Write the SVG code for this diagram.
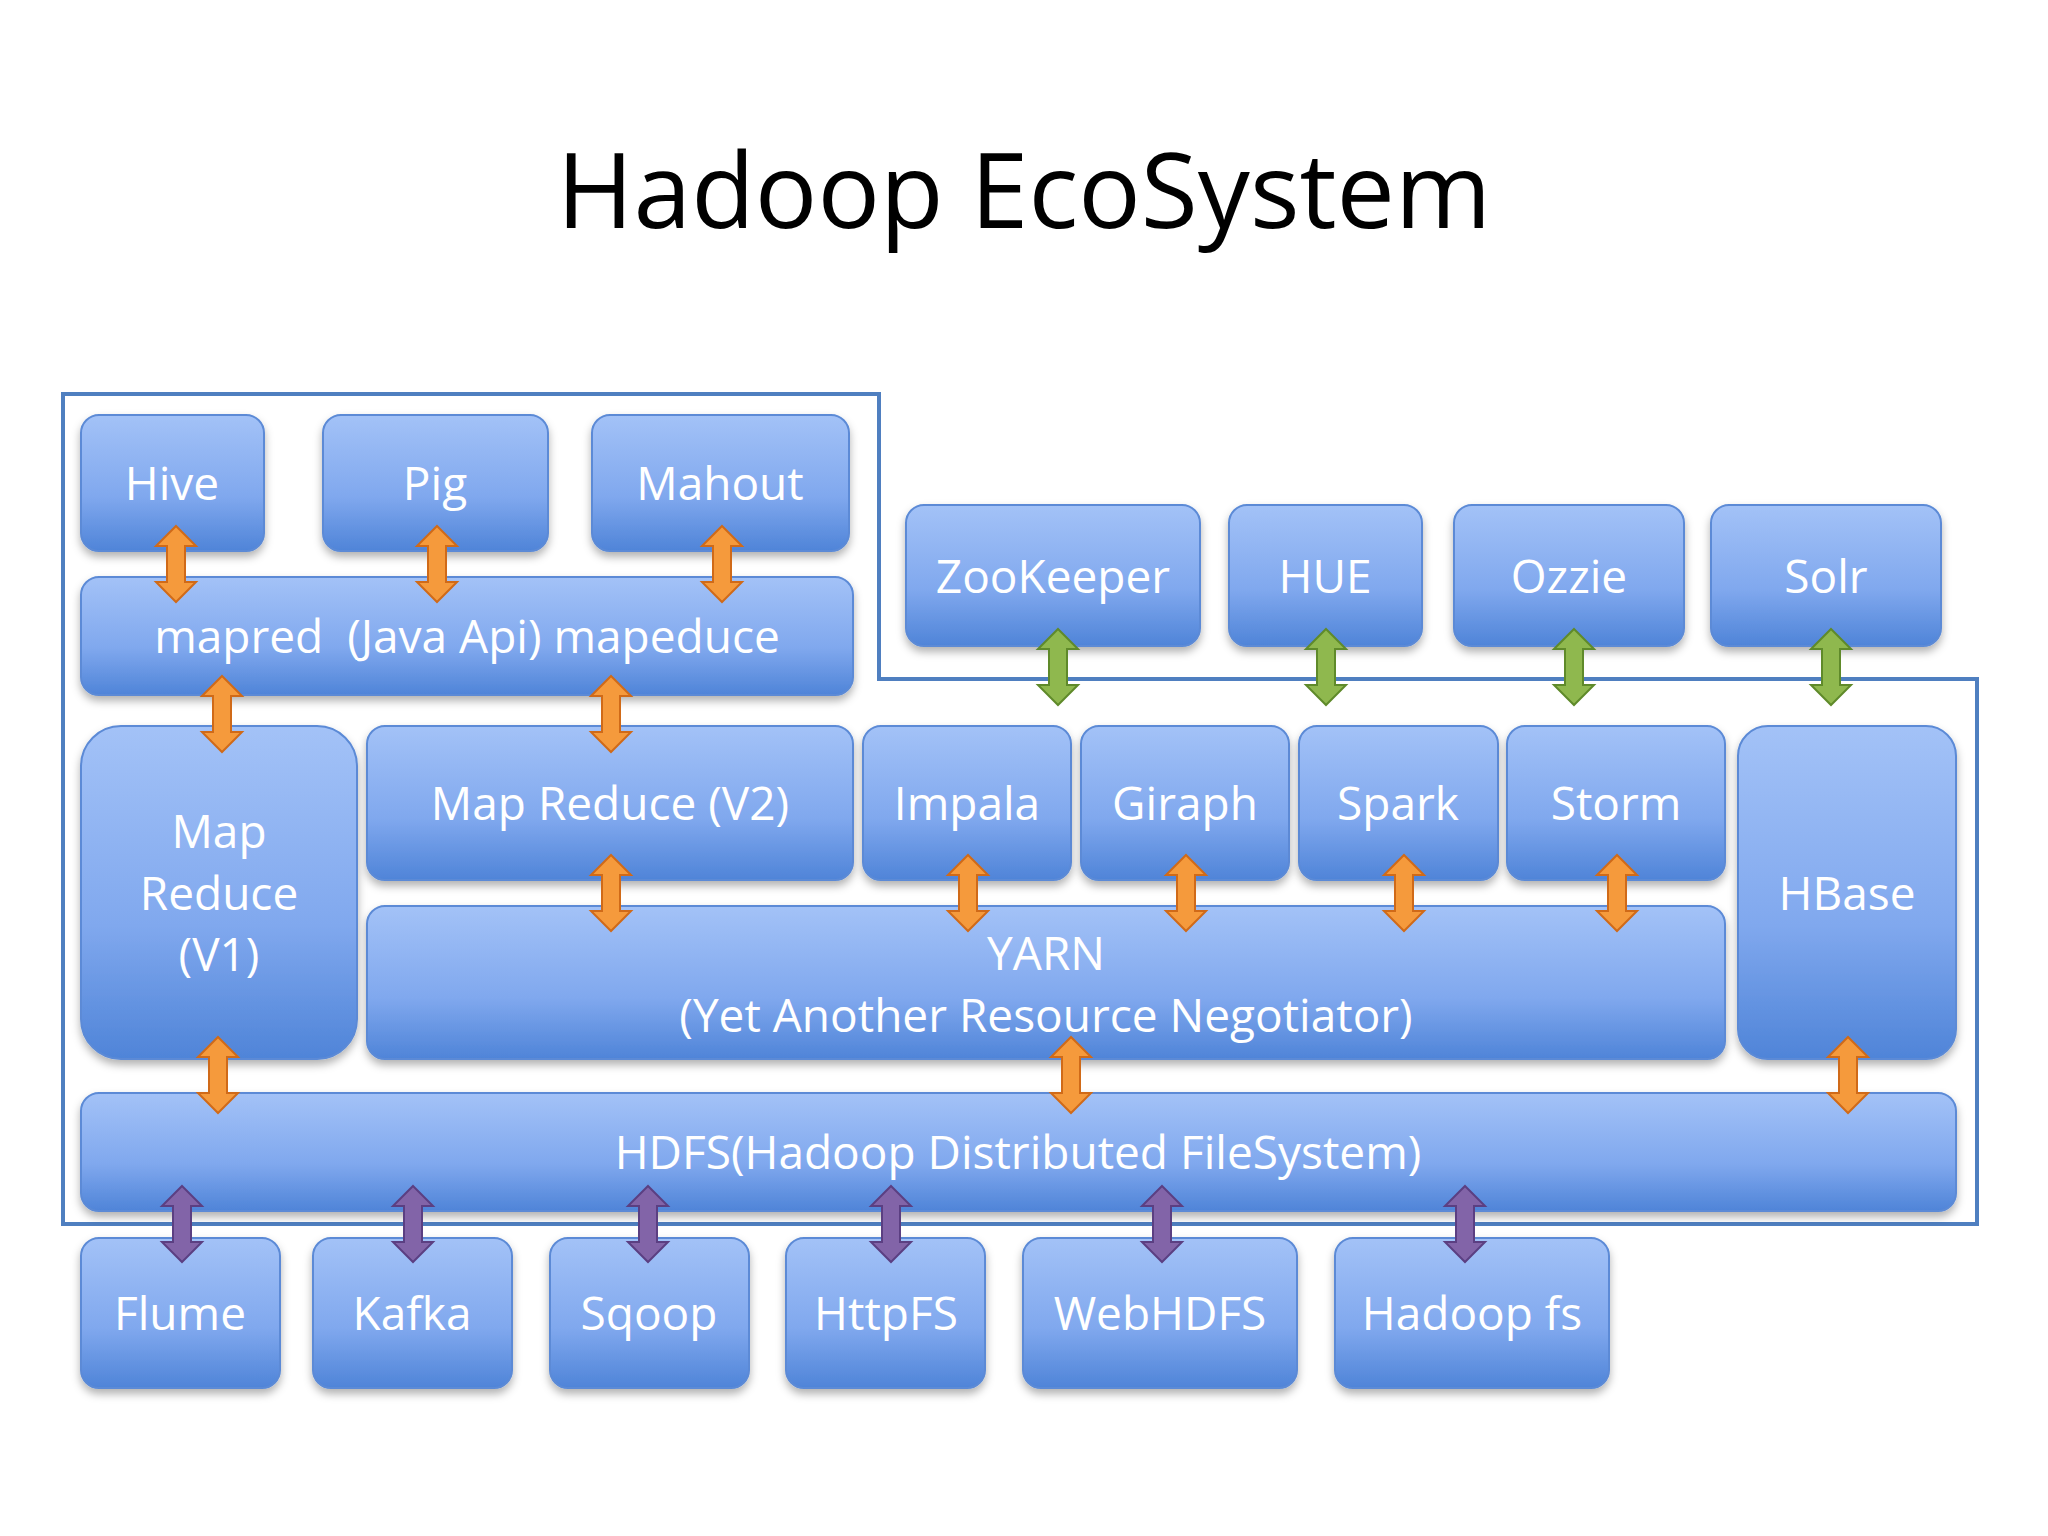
<svg xmlns="http://www.w3.org/2000/svg" width="2048" height="1536" viewBox="0 0 2048 1536">
<defs>
<linearGradient id="g" x1="0" y1="0" x2="0" y2="1"><stop offset="0" stop-color="#a3c2f7"/><stop offset="0.6" stop-color="#80a8ee"/><stop offset="1" stop-color="#4f84d8"/></linearGradient>
<filter id="sh" x="-10%" y="-10%" width="120%" height="130%"><feDropShadow dx="0" dy="5" stdDeviation="4" flood-color="#000" flood-opacity="0.3"/></filter>
<path id="arr" d="M0,-38 L20,-18 L9,-18 L9,18 L20,18 L0,38 L-20,18 L-9,18 L-9,-18 L-20,-18 Z"/>
<style>
.b{fill:url(#g);stroke:#5b8ad6;stroke-width:2;filter:url(#sh)}
.t{fill:#fff;font-family:"Open Sans","Liberation Sans",sans-serif;font-size:46px;text-anchor:middle}
.o{fill:#f59a3c;stroke:#d06a18;stroke-width:2}
.gr{fill:#8fb84e;stroke:#5f8a2a;stroke-width:2}
.p{fill:#8264a8;stroke:#5b3f82;stroke-width:2}
</style>
</defs>
<rect width="2048" height="1536" fill="#fff"/>
<text x="1024" y="228" font-family="'Open Sans','Liberation Sans',sans-serif" font-size="104" text-anchor="middle" fill="#000">Hadoop EcoSystem</text>
<polygon points="63,394 879,394 879,679 1977,679 1977,1224 63,1224" fill="none" stroke="#4f7fc0" stroke-width="4"/>
<g id="hive"><rect class="b" x="81" y="415" width="183" height="136" rx="18"/><text class="t" x="172" y="500">Hive</text></g>
<g id="pig"><rect class="b" x="323" y="415" width="225" height="136" rx="18"/><text class="t" x="435" y="500">Pig</text></g>
<g id="mahout"><rect class="b" x="592" y="415" width="257" height="136" rx="18"/><text class="t" x="720" y="500">Mahout</text></g>
<g id="mapred"><rect class="b" x="81" y="577" width="772" height="118" rx="18"/><text class="t" x="467" y="653" xml:space="preserve">mapred  (Java Api) mapeduce</text></g>
<g id="zookeeper"><rect class="b" x="906" y="505" width="294" height="141" rx="18"/><text class="t" x="1053" y="593">ZooKeeper</text></g>
<g id="hue"><rect class="b" x="1229" y="505" width="193" height="141" rx="18"/><text class="t" x="1325" y="593">HUE</text></g>
<g id="ozzie"><rect class="b" x="1454" y="505" width="230" height="141" rx="18"/><text class="t" x="1569" y="593">Ozzie</text></g>
<g id="solr"><rect class="b" x="1711" y="505" width="230" height="141" rx="18"/><text class="t" x="1826" y="593">Solr</text></g>
<g id="mrv1"><rect class="b" x="81" y="726" width="276" height="333" rx="40"/><text class="t" x="219" y="848">Map</text><text class="t" x="219" y="910">Reduce</text><text class="t" x="219" y="971">(V1)</text></g>
<g id="mrv2"><rect class="b" x="367" y="726" width="486" height="154" rx="18"/><text class="t" x="610" y="820">Map Reduce (V2)</text></g>
<g id="impala"><rect class="b" x="863" y="726" width="208" height="154" rx="18"/><text class="t" x="967" y="820">Impala</text></g>
<g id="giraph"><rect class="b" x="1081" y="726" width="208" height="154" rx="18"/><text class="t" x="1185" y="820">Giraph</text></g>
<g id="spark"><rect class="b" x="1299" y="726" width="199" height="154" rx="18"/><text class="t" x="1398" y="820">Spark</text></g>
<g id="storm"><rect class="b" x="1507" y="726" width="218" height="154" rx="18"/><text class="t" x="1616" y="820">Storm</text></g>
<g id="hbase"><rect class="b" x="1738" y="726" width="218" height="333" rx="30"/><text class="t" x="1847" y="910">HBase</text></g>
<g id="yarn"><rect class="b" x="367" y="906" width="1358" height="153" rx="18"/><text class="t" x="1046" y="970">YARN</text><text class="t" x="1046" y="1032">(Yet Another Resource Negotiator)</text></g>
<g id="hdfs"><rect class="b" x="81" y="1093" width="1875" height="118" rx="18"/><text class="t" x="1018" y="1169">HDFS(Hadoop Distributed FileSystem)</text></g>
<g id="flume"><rect class="b" x="81" y="1238" width="199" height="150" rx="18"/><text class="t" x="180" y="1330">Flume</text></g>
<g id="kafka"><rect class="b" x="313" y="1238" width="199" height="150" rx="18"/><text class="t" x="412" y="1330">Kafka</text></g>
<g id="sqoop"><rect class="b" x="550" y="1238" width="199" height="150" rx="18"/><text class="t" x="649" y="1330">Sqoop</text></g>
<g id="httpfs"><rect class="b" x="786" y="1238" width="199" height="150" rx="18"/><text class="t" x="886" y="1330">HttpFS</text></g>
<g id="webhdfs"><rect class="b" x="1023" y="1238" width="274" height="150" rx="18"/><text class="t" x="1160" y="1330">WebHDFS</text></g>
<g id="hadoopfs"><rect class="b" x="1335" y="1238" width="274" height="150" rx="18"/><text class="t" x="1472" y="1330">Hadoop fs</text></g>
<g id="connectors">
<use href="#arr" class="o" x="176" y="564"/><use href="#arr" class="o" x="437" y="564"/><use href="#arr" class="o" x="722" y="564"/>
<use href="#arr" class="o" x="222" y="714"/><use href="#arr" class="o" x="611" y="714"/>
<use href="#arr" class="o" x="611" y="893"/><use href="#arr" class="o" x="968" y="893"/><use href="#arr" class="o" x="1186" y="893"/><use href="#arr" class="o" x="1404" y="893"/><use href="#arr" class="o" x="1617" y="893"/>
<use href="#arr" class="o" x="218" y="1075"/><use href="#arr" class="o" x="1071" y="1075"/><use href="#arr" class="o" x="1848" y="1075"/>
<use href="#arr" class="gr" x="1058" y="667"/><use href="#arr" class="gr" x="1326" y="667"/><use href="#arr" class="gr" x="1574" y="667"/><use href="#arr" class="gr" x="1831" y="667"/>
<use href="#arr" class="p" x="182" y="1224"/><use href="#arr" class="p" x="413" y="1224"/><use href="#arr" class="p" x="648" y="1224"/><use href="#arr" class="p" x="891" y="1224"/><use href="#arr" class="p" x="1162" y="1224"/><use href="#arr" class="p" x="1465" y="1224"/>
</g>
</svg>
